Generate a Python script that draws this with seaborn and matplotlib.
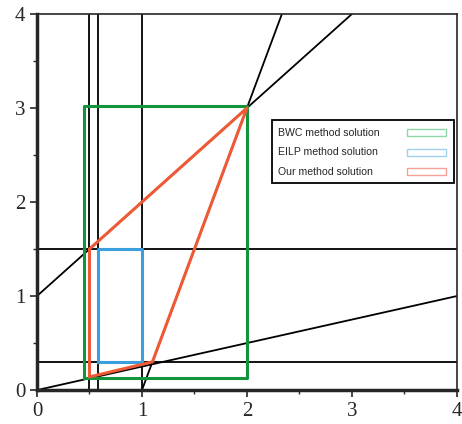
import numpy as np
import pandas as pd
import matplotlib
matplotlib.use("Agg")
import matplotlib.pyplot as plt
import seaborn as sns
from matplotlib.patches import Rectangle

# constraint lines
vert_x = [0.5, 0.577, 1.0]
horiz_y = [1.5, 0.3]
line_a_x = [0, 3]          # y = x + 1
line_a_y = [1, 4]
line_b_x = [0, 4]          # y = 0.25x
line_b_y = [0, 1]
line_c_x = [1, 2.333]      # y = 3x - 3
line_c_y = [0, 4]

# solution regions
bwc_x = [0.45, 2.0, 2.0, 0.45, 0.45]
bwc_y = [0.13, 0.13, 3.02, 3.02, 0.13]
eilp_x = [0.577, 1.0, 1.0, 0.577, 0.577]
eilp_y = [0.3, 0.3, 1.5, 1.5, 0.3]
our_x = [0.5, 2.0, 1.1, 0.5, 0.5]
our_y = [1.5, 3.0, 0.3, 0.14, 1.5]

labels = ["BWC method solution", "EILP method solution", "Our method solution"]
green, blue, red = "#13943c", "#3a9fdc", "#ee5a36"
legend_colors = ["#8fd6a8", "#9fd0ee", "#f4a096"]

sns.set_style("ticks")
fig = plt.figure(figsize=(4.62, 4.24), dpi=100)
ax = fig.add_axes([0.08, 0.08, 0.909, 0.887])

for x in vert_x:
    ax.axvline(x, color="black", lw=1.3)
for y in horiz_y:
    ax.axhline(y, color="black", lw=1.3)
for xs, ys in [(line_a_x, line_a_y), (line_b_x, line_b_y), (line_c_x, line_c_y)]:
    sns.lineplot(x=xs, y=ys, ax=ax, color="black", lw=1.3, sort=False, estimator=None)

for xs, ys, c in [(bwc_x, bwc_y, green), (eilp_x, eilp_y, blue), (our_x, our_y, red)]:
    sns.lineplot(x=xs, y=ys, ax=ax, color=c, lw=2.2, sort=False, estimator=None)

ax.set_xlim(0, 4)
ax.set_ylim(0, 4)
ax.set_xticks([0, 1, 2, 3, 4])
ax.set_yticks([0, 1, 2, 3, 4])
ax.set_xticks(np.arange(0, 4.01, 0.5), minor=True)
ax.set_yticks(np.arange(0, 4.01, 0.5), minor=True)
ax.tick_params(labelsize=15, width=1.2, length=5)
ax.tick_params(which="minor", width=1, length=3)
for t in ax.get_xticklabels() + ax.get_yticklabels():
    t.set_family("Liberation Serif")
for s in ax.spines.values():
    s.set_linewidth(1.2)
ax.spines["left"].set_linewidth(2.5)
ax.spines["bottom"].set_linewidth(2.5)

# legend box: labels on the left, outlined swatches on the right
ax.add_patch(Rectangle((0.56, 0.551), 0.433, 0.167, transform=ax.transAxes,
                       facecolor="white", edgecolor="black", lw=1.3, zorder=5))
for i, (lab, c) in enumerate(zip(labels, legend_colors)):
    yy = 0.684 - i * 0.052
    ax.text(0.574, yy, lab, transform=ax.transAxes, fontsize=7.6,
            family="Liberation Sans", va="center", ha="left", zorder=6)
    ax.add_patch(Rectangle((0.881, yy - 0.009), 0.093, 0.019, transform=ax.transAxes,
                           facecolor="white", edgecolor=c, lw=1, zorder=6))

fig.savefig("out.png", dpi=100)
